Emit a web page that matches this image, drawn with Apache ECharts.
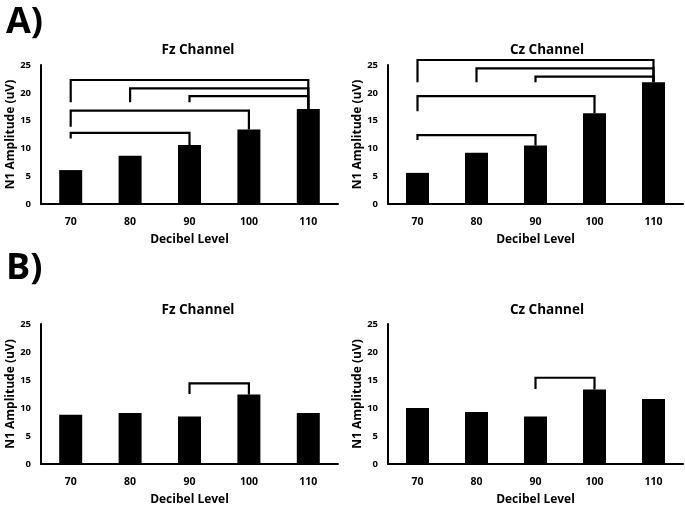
<!DOCTYPE html>
<html>
<head>
<meta charset="utf-8">
<script src="https://cdn.jsdelivr.net/npm/echarts@6/dist/echarts.min.js"></script>
<style>
  html, body { margin: 0; padding: 0; background: #fff; }
  #chart { width: 685px; height: 508px; }
</style>
</head>
<body>
<div id="chart"></div>
<script>
// 分贝级别
var decibels = ['70', '80', '90', '100', '110'];

// N1 amplitude (uV)
var fzA = [6.1, 8.7, 10.6, 13.4, 17.1];
var czA = [5.6, 9.2, 10.5, 16.3, 21.9];
var fzB = [8.8, 9.1, 8.5, 12.4, 9.1];
var czB = [10.0, 9.3, 8.5, 13.3, 11.6];

// significance brackets: [from index, to index, bar height, left leg bottom]
var fzABrackets = [[0, 2, 12.8, 11.8], [0, 3, 16.8, 13.9], [2, 4, 19.4, 18.3], [1, 4, 20.8, 18.3], [0, 4, 22.3, 18.3]];
var czABrackets = [[0, 2, 12.4, 11.5], [0, 3, 19.4, 16.7], [2, 4, 22.9, 21.9], [1, 4, 24.4, 21.9], [0, 4, 25.9, 21.9]];
var fzBBrackets = [[2, 3, 14.4, 12.5]];
var czBBrackets = [[2, 3, 15.4, 13.4]];

var yMax = 25;
var yStep = 5;

var FONT = '"Open Sans", sans-serif';

var myChart = echarts.init(document.getElementById('chart'));

var grids = [
    {left: 41, top: 65, width: 297, height: 139},
    {left: 388, top: 65, width: 295, height: 139},
    {left: 41, top: 324, width: 297, height: 140},
    {left: 388, top: 324, width: 295, height: 140}
];

function xAxis(i) {
    return {
        type: 'category',
        gridIndex: i,
        data: decibels,
        name: 'Decibel Level',
        nameLocation: 'middle',
        nameGap: 30,
        nameTextStyle: {fontFamily: FONT, fontWeight: 'bold', fontSize: 12, color: '#000'},
        axisLine: {lineStyle: {color: '#000', width: 2}},
        axisTick: {show: false},
        axisLabel: {fontFamily: FONT, fontWeight: 'bold', fontSize: 10.5, color: '#000', margin: 13}
    };
}

function yAxis(i) {
    return {
        type: 'value',
        gridIndex: i,
        min: 0,
        max: yMax,
        interval: yStep,
        name: 'N1 Amplitude (uV)',
        nameLocation: 'middle',
        nameGap: 24,
        nameTextStyle: {fontFamily: FONT, fontWeight: 'bold', fontSize: 12, color: '#000'},
        axisLine: {show: true, lineStyle: {color: '#000', width: 2}},
        axisTick: {show: false},
        splitLine: {show: false},
        axisLabel: {fontFamily: FONT, fontWeight: 'bold', fontSize: 9.5, color: '#000', margin: 10}
    };
}

function bars(i, values) {
    return {
        type: 'bar',
        xAxisIndex: i,
        yAxisIndex: i,
        data: values,
        barWidth: 23,
        itemStyle: {color: '#000'},
        silent: true
    };
}

function brackets(i, list, values) {
    return {
        type: 'custom',
        xAxisIndex: i,
        yAxisIndex: i,
        clip: false,
        silent: true,
        data: list,
        renderItem: function (params, api) {
            var a = api.value(0), b = api.value(1);
            var h = api.value(2), lb = api.value(3);
            var p1 = api.coord([a, lb]);
            var p2 = api.coord([a, h]);
            var p3 = api.coord([b, h]);
            var p4 = api.coord([b, values[b]]);
            return {
                type: 'polyline',
                shape: {points: [p1, p2, p3, p4]},
                style: {stroke: '#000', lineWidth: 2.2, fill: null}
            };
        }
    };
}

var titleStyle = {fontFamily: FONT, fontWeight: 'bold', fontSize: 13.5, color: '#000'};
var letterStyle = {fontFamily: FONT, fontWeight: 'bold', fontSize: 36, color: '#000'};

option = {
    backgroundColor: '#fff',
    animation: false,
    title: [
        {text: 'A)', left: 1, top: 0, textStyle: letterStyle},
        {text: 'B)', left: 1, top: 246, textStyle: letterStyle},
        {text: 'Fz Channel', left: 193, top: 38, textAlign: 'center', textStyle: titleStyle},
        {text: 'Cz Channel', left: 542, top: 38, textAlign: 'center', textStyle: titleStyle},
        {text: 'Fz Channel', left: 193, top: 298, textAlign: 'center', textStyle: titleStyle},
        {text: 'Cz Channel', left: 542, top: 298, textAlign: 'center', textStyle: titleStyle}
    ],
    grid: grids,
    xAxis: [xAxis(0), xAxis(1), xAxis(2), xAxis(3)],
    yAxis: [yAxis(0), yAxis(1), yAxis(2), yAxis(3)],
    series: [
        bars(0, fzA),
        bars(1, czA),
        bars(2, fzB),
        bars(3, czB),
        brackets(0, fzABrackets, fzA),
        brackets(1, czABrackets, czA),
        brackets(2, fzBBrackets, fzB),
        brackets(3, czBBrackets, czB)
    ]
};
myChart.setOption(option);
</script>
</body>
</html>
